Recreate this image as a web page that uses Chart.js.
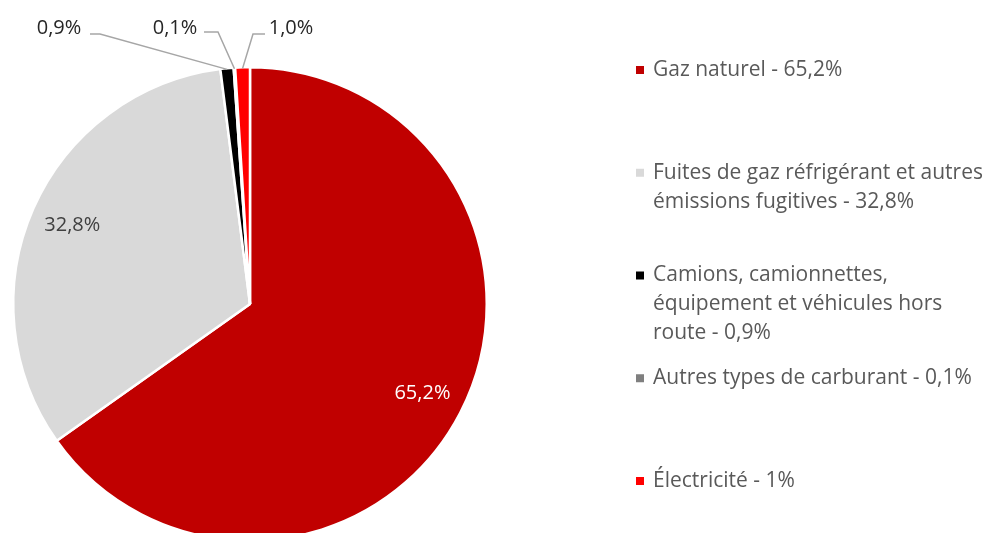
<!DOCTYPE html>
<html>
<head>
<meta charset="utf-8">
<script src="https://cdn.jsdelivr.net/npm/chart.js@4"></script>
<style>
  html, body { margin: 0; padding: 0; background: #fff; overflow: hidden; }
  #wrap { position: relative; width: 987px; height: 545px; }
</style>
</head>
<body>
<div id="wrap"><canvas id="chart"></canvas></div>
<script>
// Sources d'émissions (libellés de légende, découpés en lignes comme dans l'original)
var labels = [
  ['Gaz naturel - 65,2%'],
  ['Fuites de gaz réfrigérant et autres', 'émissions fugitives - 32,8%'],
  ['Camions, camionnettes,', 'équipement et véhicules hors', 'route - 0,9%'],
  ['Autres types de carburant - 0,1%'],
  ['Électricité - 1%']
];
var values = [65.2, 32.8, 0.9, 0.1, 1.0];
var colors = ['#C00000', '#D9D9D9', '#000000', '#7F7F7F', '#FF0000'];

var FONT = '"Open Sans", Lato, sans-serif';

function pct(v) {
  return v.toFixed(1).replace('.', ',') + '%';
}

// étiquettes de valeurs : dans les grosses parts, avec ligne de rappel pour les petites
var callouts = {
  2: { tx: 59, ty: 28, x1: 90, y1: 34, x2: 100, y2: 34 },
  3: { tx: 175, ty: 28, x1: 204, y1: 32, x2: 218, y2: 32 },
  4: { tx: 291, ty: 28, x1: 265, y1: 34, x2: 253, y2: 34 }
};

var valueLabels = {
  id: 'valueLabels',
  afterDatasetsDraw: function (chart) {
    var c = chart.ctx;
    var meta = chart.getDatasetMeta(0);
    c.save();
    c.font = '20px ' + FONT;
    c.textAlign = 'center';
    c.textBaseline = 'middle';
    meta.data.forEach(function (arc, i) {
      var p = arc.getProps(['x', 'y', 'startAngle', 'endAngle', 'outerRadius'], true);
      var mid = (p.startAngle + p.endAngle) / 2;
      var txt = pct(values[i]);
      var co = callouts[i];
      if (!co) {
        var r = p.outerRadius * 0.82;
        c.fillStyle = i === 0 ? '#ffffff' : '#404040';
        c.fillText(txt, p.x + Math.cos(mid) * r, p.y + Math.sin(mid) * r);
        return;
      }
      var ax = p.x + Math.cos(mid) * (p.outerRadius - 1);
      var ay = p.y + Math.sin(mid) * (p.outerRadius - 1);
      c.strokeStyle = '#A6A6A6';
      c.lineWidth = 1.5;
      c.beginPath();
      c.moveTo(co.x1, co.y1);
      c.lineTo(co.x2, co.y2);
      c.lineTo(ax, ay);
      c.stroke();
      c.fillStyle = '#262626';
      c.fillText(txt, co.tx, co.ty);
    });
    c.restore();
  }
};

// légende à droite, entrées espacées régulièrement
var sideLegend = {
  id: 'sideLegend',
  afterDraw: function (chart) {
    var c = chart.ctx;
    var x0 = 636, tx = 653, top = 70, step = 102.75, lh = 29;
    c.save();
    c.font = '21px ' + FONT;
    c.textAlign = 'left';
    c.textBaseline = 'middle';
    chart.data.labels.forEach(function (lines, i) {
      var y = top + i * step;
      c.fillStyle = colors[i];
      c.fillRect(x0, y - 4, 8, 8);
      c.fillStyle = '#595959';
      lines.forEach(function (ln, k) {
        c.fillText(ln, tx, y + k * lh);
      });
    });
    c.restore();
  }
};

new Chart(document.getElementById('chart'), {
  type: 'pie',
  data: {
    labels: labels,
    datasets: [
      {
        data: values,
        backgroundColor: colors,
        borderColor: '#ffffff',
        borderWidth: 2.5
      }
    ]
  },
  options: {
    responsive: true,
    maintainAspectRatio: false,
    animation: false,
    layout: { padding: { left: 12, right: 499, top: 66, bottom: 3 } },
    plugins: {
      legend: { display: false },
      tooltip: { enabled: false }
    }
  },
  plugins: [valueLabels, sideLegend]
});
</script>
</body>
</html>
